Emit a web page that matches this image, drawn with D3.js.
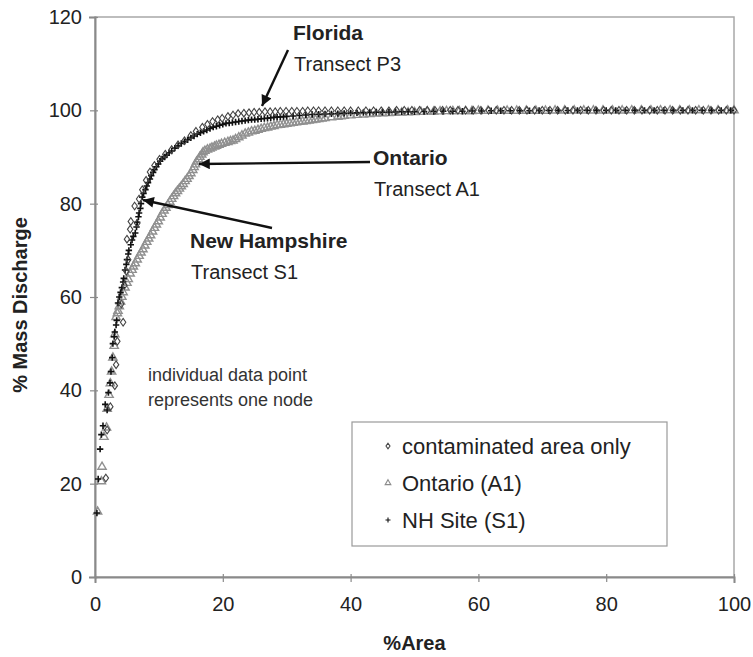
<!DOCTYPE html>
<html>
<head>
<meta charset="utf-8">
<script src="https://cdn.jsdelivr.net/npm/d3@7"></script>
<style>
  html, body { margin: 0; padding: 0; background: #fff; }
  svg { display: block; font-family: "Liberation Sans", Arial, sans-serif; }
</style>
</head>
<body>
<svg id="chart" width="753" height="657"></svg>
<script>
// ---------- data: [%Area, %Mass Discharge] ----------
const xTicks = [0, 20, 40, 60, 80, 100];
const yTicks = [0, 20, 40, 60, 80, 100, 120];

// Florida – contaminated area only (open diamonds)
const floridaPoints = [
  [1.7,21.2],[1.9,31.5],[2.4,36.5],[3.1,41.0],[3.3,45.5],[3.5,50.5],[4.4,54.6],[4.1,58.5],[4.6,62.5],
  [4.9,65.5],[5.2,68.0],[5.0,72.4],[5.5,74.5],[5.6,76.2],[6.6,75.8],[6.2,79.5],[6.9,81.0],[7.4,83.0],
  [8.0,85.0],[8.6,86.8],[9.3,88.2],[10.1,89.5],[11.0,90.6],[12.0,91.6],[13.0,92.6],[14.0,93.5],
  [15.0,94.6],[15.8,95.5],[16.8,96.4],[17.6,97.0],[18.4,97.6],[19.2,98.0],[19.9,98.3],[20.8,98.7],
  [21.6,99.0],[22.4,99.3],[23.3,99.4],[24.1,99.5],[24.9,99.6],[25.7,99.6],[26.6,99.7],[27.4,99.7],
  [28.2,99.7],[29.0,99.8],[29.9,99.8],[30.8,99.8],[31.6,99.8],[32.5,99.8],[33.3,99.9],[34.2,99.9],
  [35.0,99.9],[36.0,99.9],[37.0,99.9],[38.0,99.9],[39.0,99.9],[40.0,99.9],[41.2,99.9],[42.4,99.9],
  [43.6,99.9],[44.8,99.9],[46.0,99.9],[47.2,100],[48.4,100],[49.6,100],[50.8,100],[52.0,100],
  [53.2,100],[54.4,100],[55.6,100],[56.8,100],[58.0,100],[59.2,100],[60.4,100],[61.6,100],[62.8,100],
  [64.0,100],[65.2,100],[66.4,100],[67.6,100],[68.8,100],[70.0,100],[71.2,100],[72.4,100],[73.6,100],
  [74.8,100],[76.0,100],[77.2,100],[78.4,100],[79.6,100],[80.8,100],[82.0,100],[83.2,100],[84.4,100],
  [85.6,100],[86.8,100],[88.0,100],[89.2,100],[90.4,100],[91.6,100],[92.8,100],[94.0,100],[95.2,100],
  [96.4,100],[97.6,100],[98.8,100],[100.0,100]
];

// Ontario – Transect A1 (open triangles)
const ontarioPoints = [
  [0.4,14.0],[1.0,20.5],[1.1,23.6],[1.4,30.0],[1.8,32.0],[1.9,36.0],[2.2,39.0],[2.4,41.5],[2.6,44.0],
  [2.8,47.0],[3.0,49.5],[3.1,52.0],[3.3,55.7],[3.5,56.5],[3.6,57.0],[3.8,58.0],[4.0,59.0],[4.2,60.0],
  [4.4,61.0],[4.7,62.0],[5.0,63.0],[5.2,63.8],[5.5,65.0],[5.8,65.8],[6.0,66.5],[6.3,67.2],[6.6,68.0],
  [6.9,68.8],[7.2,69.5],[7.5,70.2],[7.8,71.0],[8.1,71.8],[8.4,72.5],[8.7,73.2],[9.0,74.0],[9.3,74.8],
  [9.6,75.5],[9.9,76.2],[10.2,77.0],[10.5,77.8],[10.8,78.5],[11.1,79.1],[11.4,79.7],[11.7,80.4],
  [12.0,81.0],[12.3,81.6],[12.6,82.2],[12.9,82.7],[13.2,83.2],[13.5,83.7],[13.8,84.2],[14.1,84.8],
  [14.4,85.3],[14.7,85.9],[15.0,86.5],[15.3,87.2],[15.5,87.8],[15.7,88.4],[15.9,89.0],[16.2,89.5],
  [16.4,90.0],[16.7,90.5],[16.9,91.0],[17.2,91.3],[17.6,91.6],[18.0,91.8],[18.3,92.0],[18.7,92.2],
  [19.0,92.4],[19.4,92.6],[19.8,92.8],[20.3,93.0],[20.8,93.2],[21.2,93.4],[21.6,93.5],[22.0,93.8],
  [22.5,94.2],[23.0,94.6],[23.5,95.0],[24.0,95.2],[24.5,95.5],[25.0,95.6],[25.5,95.8],[26.0,96.0],
  [26.5,96.2],[27.0,96.3],[27.5,96.5],[28.0,96.6],[28.5,96.8],[29.0,96.9],[29.5,97.0],[30.0,97.1],
  [30.5,97.2],[31.0,97.3],[31.5,97.4],[32.0,97.5],[32.5,97.6],[33.0,97.7],[33.5,97.8],[34.0,97.9],
  [34.5,98.0],[35.0,98.1],[35.5,98.2],[36.0,98.3],[37.0,98.5],[38.0,98.6],[38.5,98.7],[39.0,98.8],
  [40.0,98.9],[41.0,99.0],[42.0,99.1],[43.0,99.2],[44.0,99.3],[45.0,99.35],[46.0,99.4],[47.0,99.45],
  [48.0,99.5],[49.0,99.55],[50.0,99.6],[51.0,99.65],[52.0,99.7],[53.0,99.7],[54.0,99.75],[55.0,99.8],
  [56.0,99.8],[57.0,99.8],[58.0,99.8],[59.0,99.85],[60.0,99.9],[61.5,99.9],[63.0,99.9],[64.5,99.9],
  [66.0,99.9],[67.5,99.9],[69.0,99.9],[70.5,99.9],[72.0,99.95],[73.5,99.95],[75.0,99.95],[76.5,99.95],
  [78.0,99.95],[79.5,99.95],[81.0,99.95],[82.5,99.95],[84.0,100],[85.5,100],[87.0,100],[88.5,100],
  [90.0,100],[91.5,100],[93.0,100],[94.5,100],[96.0,100],[97.5,100],[99.0,100],[100.0,100]
];

// New Hampshire – Transect S1 (plus signs)
const nhPoints = [
  [0.3,13.7],[0.5,21.0],[0.8,27.4],[1.0,30.5],[1.25,32.4],[1.6,37.0],[1.9,35.8],[2.1,39.5],[2.35,41.6],
  [2.5,44.0],[2.7,47.0],[2.8,50.0],[3.0,51.5],[3.1,52.5],[3.3,54.0],[3.4,55.0],[3.6,58.7],[3.8,60.0],
  [4.0,61.0],[4.2,62.0],[4.4,63.2],[4.5,64.0],[4.7,65.8],[4.9,67.0],[5.0,68.0],[5.2,69.2],[5.3,70.0],
  [5.6,71.2],[5.8,72.2],[6.0,73.0],[6.3,73.7],[6.5,75.0],[6.6,76.0],[6.8,77.2],[6.9,78.0],[7.1,79.0],
  [7.2,80.0],[7.4,81.4],[7.6,82.2],[7.9,83.0],[8.1,83.8],[8.3,84.5],[8.6,85.3],[8.8,86.0],[9.1,86.7],
  [9.3,87.3],[9.6,87.9],[9.9,88.5],[10.2,89.1],[10.5,89.6],[10.9,90.0],[11.2,90.4],[11.6,90.9],
  [12.0,91.3],[12.5,91.9],[13.0,92.4],[13.5,92.9],[14.0,93.3],[14.5,93.7],[15.0,94.1],[15.5,94.5],
  [16.0,94.9],[16.5,95.2],[17.0,95.5],[17.5,95.8],[18.0,96.1],[18.5,96.4],[19.0,96.6],[19.5,96.8],
  [20.0,97.0],[20.5,97.2],[21.0,97.3],[21.5,97.4],[22.0,97.5],[22.5,97.6],[23.0,97.7],[23.5,97.8],
  [24.0,97.9],[24.5,98.0],[25.0,98.0],[25.5,98.1],[26.0,98.2],[26.5,98.25],[27.0,98.3],[27.5,98.4],
  [28.0,98.5],[28.5,98.55],[29.0,98.6],[29.5,98.65],[30.0,98.7],[31.0,98.8],[32.0,98.9],[33.0,99.0],
  [34.0,99.1],[35.0,99.15],[36.0,99.2],[37.0,99.25],[38.0,99.3],[39.0,99.35],[40.0,99.4],[41.0,99.45],
  [42.0,99.5],[43.0,99.55],[44.0,99.6],[45.0,99.6],[46.0,99.6],[47.0,99.65],[48.0,99.7],[49.0,99.7],
  [50.0,99.7],[51.5,99.75],[53.0,99.75],[54.5,99.8],[56.0,99.8],[57.5,99.8],[59.0,99.85],[60.5,99.85],
  [62.0,99.9],[63.5,99.9],[65.0,99.9],[66.5,99.9],[68.0,99.9],[69.5,99.95],[71.0,99.95],[72.5,99.95],
  [74.0,99.95],[75.5,100],[77.0,100],[78.5,100],[80.0,100],[81.5,100],[83.0,100],[84.5,100],[86.0,100],
  [87.5,100],[89.0,100],[90.5,100],[92.0,100],[93.5,100],[95.0,100],[96.5,100],[98.0,100],[99.5,100]
];

const legendLabels = ["contaminated area only", "Ontario (A1)", "NH Site (S1)"];

// ---------- layout ----------
const FONT = '"Liberation Sans", Arial, sans-serif';
const svg = d3.select("#chart");
const plot = { left: 95, right: 734, top: 17, bottom: 577 };
const x = d3.scaleLinear().domain([0, 100]).range([plot.left, plot.right]);
const y = d3.scaleLinear().domain([0, 120]).range([plot.bottom, plot.top]);

const axisColor = "#8a8a8a";

// frame (top & right)
svg.append("rect")
  .attr("x", plot.left).attr("y", plot.top)
  .attr("width", plot.right - plot.left).attr("height", plot.bottom - plot.top)
  .attr("fill", "none").attr("stroke", "#a8a8a8").attr("stroke-width", 1.5);

// axes
const xAxis = svg.append("g").attr("transform", `translate(0,${plot.bottom})`)
  .call(d3.axisBottom(x).tickValues(xTicks).tickSize(6).tickPadding(14).tickFormat(d3.format("d")));
const yAxis = svg.append("g").attr("transform", `translate(${plot.left},0)`)
  .call(d3.axisLeft(y).tickValues(yTicks).tickSize(6).tickPadding(7).tickFormat(d3.format("d")));
[xAxis, yAxis].forEach(g => {
  g.select(".domain").attr("stroke", axisColor).attr("stroke-width", 2);
  g.selectAll(".tick line").attr("stroke", axisColor).attr("stroke-width", 1.2);
  g.selectAll(".tick text").attr("fill", "#222").style("font-size", "20px").style("font-family", FONT);
});
xAxis.selectAll(".tick line").attr("y1", -3).attr("y2", 5);
yAxis.selectAll(".tick line").attr("x1", 3).attr("x2", -5);

// axis titles
svg.append("text").attr("x", (plot.left + plot.right) / 2).attr("y", 650)
  .attr("text-anchor", "middle").attr("font-weight", "bold").attr("font-size", 20)
  .attr("fill", "#222").text("%Area");
svg.append("text")
  .attr("transform", `translate(27,305) rotate(-90)`)
  .attr("text-anchor", "middle").attr("font-weight", "bold").attr("font-size", 20)
  .attr("fill", "#222").text("% Mass Discharge");

// ---------- series ----------
const triPath = d3.symbol().type(d3.symbolTriangle).size(30)();
const diaPath = "M0,-3.8L2.7,0L0,3.8L-2.7,0Z";
const plusPath = "M-3.2,0H3.2M0,-3.2V3.2";

svg.append("g").selectAll("path").data(ontarioPoints).join("path")
  .attr("transform", d => `translate(${x(d[0])},${y(d[1])})`)
  .attr("d", triPath).attr("fill", "none").attr("stroke", "#909090").attr("stroke-width", 1.4);

svg.append("g").selectAll("path").data(nhPoints).join("path")
  .attr("transform", d => `translate(${x(d[0])},${y(d[1])})`)
  .attr("d", plusPath).attr("fill", "none").attr("stroke", "#111").attr("stroke-width", 1.6);

svg.append("g").selectAll("path").data(floridaPoints).join("path")
  .attr("transform", d => `translate(${x(d[0])},${y(d[1])})`)
  .attr("d", diaPath).attr("fill", "none").attr("stroke", "#444").attr("stroke-width", 1.1);

// ---------- annotations ----------
svg.append("defs").append("marker")
  .attr("id", "arrow").attr("viewBox", "0 0 10 10").attr("refX", 10).attr("refY", 5)
  .attr("markerWidth", 6).attr("markerHeight", 4.5).attr("orient", "auto")
  .attr("markerUnits", "strokeWidth")
  .append("path").attr("d", "M0,0L10,5L0,10Z").attr("fill", "#111");

function arrow(x1, y1, x2, y2) {
  svg.append("line").attr("x1", x1).attr("y1", y1).attr("x2", x2).attr("y2", y2)
    .attr("stroke", "#111").attr("stroke-width", 2.4).attr("marker-end", "url(#arrow)");
}
arrow(288, 50, 262, 106);
arrow(370, 162, 199, 164);
arrow(272, 228, 143, 200);

function label(xp, yp, bold, normal) {
  svg.append("text").attr("x", xp).attr("y", yp).attr("font-size", 21)
    .attr("font-weight", "bold").attr("fill", "#222").text(bold);
  svg.append("text").attr("x", xp + 1).attr("y", yp + 31).attr("font-size", 20)
    .attr("fill", "#222").text(normal);
}
label(293, 40, "Florida", "Transect P3");
label(373, 165, "Ontario", "Transect A1");
label(190, 248, "New Hampshire", "Transect S1");

svg.append("text").attr("x", 148).attr("y", 381).attr("font-size", 18).attr("fill", "#333")
  .text("individual data point");
svg.append("text").attr("x", 148).attr("y", 406).attr("font-size", 18).attr("fill", "#333")
  .text("represents one node");

// ---------- legend ----------
const leg = svg.append("g");
leg.append("rect").attr("x", 352).attr("y", 422).attr("width", 315).attr("height", 124)
  .attr("fill", "#fff").attr("stroke", "#9a9a9a").attr("stroke-width", 1.2);
const legY = d3.scalePoint().domain(legendLabels).range([446, 520]);
const legShapes = [
  { d: "M0,-2.8L2,0L0,2.8L-2,0Z", stroke: "#444" },
  { d: d3.symbol().type(d3.symbolTriangle).size(14)(), stroke: "#8c8c8c" },
  { d: "M-2.5,0H2.5M0,-2.5V2.5", stroke: "#111" }
];
legendLabels.forEach((lab, i) => {
  leg.append("path").attr("transform", `translate(388,${legY(lab)})`)
    .attr("d", legShapes[i].d).attr("fill", "none").attr("stroke", legShapes[i].stroke).attr("stroke-width", 1.1);
  leg.append("text").attr("x", 402).attr("y", legY(lab) + 8).attr("font-size", 22)
    .attr("fill", "#222").text(lab);
});
</script>
</body>
</html>
